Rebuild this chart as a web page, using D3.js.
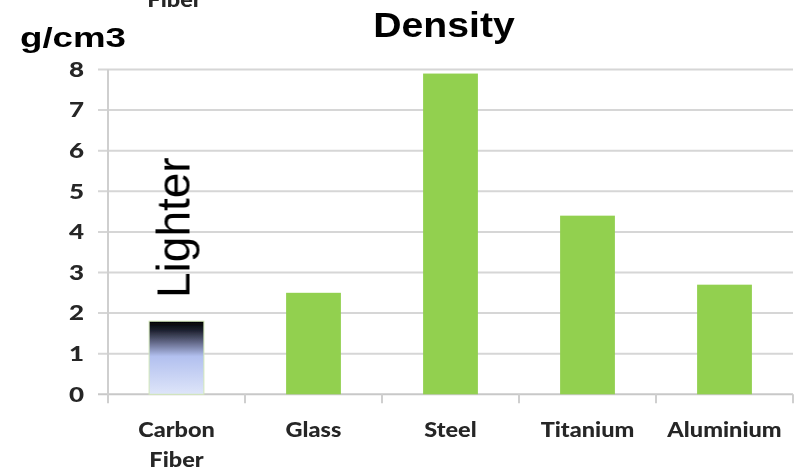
<!DOCTYPE html>
<html>
<head>
<meta charset="utf-8">
<script src="https://cdn.jsdelivr.net/npm/d3@7"></script>
<style>
  html, body { margin: 0; padding: 0; background: #fff; }
  svg { display: block; }
</style>
</head>
<body>
<svg id="chart" width="796" height="471"></svg>
<script>
// Material densities in g/cm3
const categories = ["Carbon Fiber", "Glass", "Steel", "Titanium", "Aluminium"];
const densities = [1.8, 2.5, 7.9, 4.4, 2.7];
const yTicks = [0, 1, 2, 3, 4, 5, 6, 7, 8];
const titleText = "Density";
const unitText = "g/cm3";
const calloutText = "Lighter";

const svg = d3.select("#chart");
const W = 796, H = 471;
const plot = { left: 108, right: 793, top: 69.5, bottom: 394.3 };

const x = d3.scaleBand()
  .domain(categories)
  .range([plot.left, plot.right])
  .paddingInner(0.6)
  .paddingOuter(0.3);
const step = x.step();

const y = d3.scaleLinear()
  .domain([0, 8])
  .range([plot.bottom, plot.top]);

// Gradient for the carbon fiber bar
const defs = svg.append("defs");
const grad = defs.append("linearGradient")
  .attr("id", "carbonGrad")
  .attr("x1", 0).attr("y1", 0).attr("x2", 0).attr("y2", 1);
[
  [0, "#000000"],
  [0.12, "#1c1f2c"],
  [0.3, "#676d8e"],
  [0.48, "#b2c0ef"],
  [1, "#dee5f9"]
].forEach(([o, c]) => grad.append("stop").attr("offset", o).attr("stop-color", c));

// Slight softening filter, evaluated over the whole canvas so thin lines keep their extent
const soft = defs.append("filter").attr("id", "soft")
  .attr("filterUnits", "userSpaceOnUse")
  .attr("x", 0).attr("y", 0).attr("width", W).attr("height", H);
soft.append("feGaussianBlur").attr("stdDeviation", 0.6);

const txtSoft = defs.append("filter").attr("id", "txtSoft")
  .attr("filterUnits", "userSpaceOnUse")
  .attr("x", 0).attr("y", -20).attr("width", W).attr("height", H + 40);
txtSoft.append("feGaussianBlur").attr("stdDeviation", 0.45);

// Horizontal gridlines
svg.append("g")
  .attr("filter", "url(#soft)")
  .selectAll("line")
  .data(yTicks.filter(d => d > 0))
  .join("line")
  .attr("x1", plot.left - 10)
  .attr("x2", plot.right)
  .attr("y1", d => y(d))
  .attr("y2", d => y(d))
  .attr("stroke", "#d6d6d6")
  .attr("stroke-width", 2);

// Axes lines and category tick marks
const axisG = svg.append("g").attr("filter", "url(#soft)");
axisG.append("line")
  .attr("x1", plot.left - 10).attr("x2", plot.right)
  .attr("y1", y(0)).attr("y2", y(0))
  .attr("stroke", "#c8c8c8").attr("stroke-width", 2);
axisG.append("line")
  .attr("x1", plot.left).attr("x2", plot.left)
  .attr("y1", y(8)).attr("y2", y(0) + 9)
  .attr("stroke", "#cfcfcf").attr("stroke-width", 2);
axisG.selectAll("line.tick")
  .data(categories)
  .join("line")
  .attr("class", "tick")
  .attr("x1", d => x(d) - step * 0.3 + step)
  .attr("x2", d => x(d) - step * 0.3 + step)
  .attr("y1", y(0))
  .attr("y2", y(0) + 9)
  .attr("stroke", "#cfcfcf").attr("stroke-width", 2);

// Bars
svg.append("g")
  .attr("filter", "url(#soft)")
  .selectAll("rect")
  .data(categories.map((c, i) => ({ c, v: densities[i] })))
  .join("rect")
  .attr("x", d => x(d.c))
  .attr("width", x.bandwidth())
  .attr("y", d => y(d.v))
  .attr("height", d => y(0) - y(d.v))
  .attr("fill", (d, i) => i === 0 ? "url(#carbonGrad)" : "#92d050")
  .attr("stroke", (d, i) => i === 0 ? "#d3e8b8" : "none")
  .attr("stroke-width", 1);

// Y tick labels
svg.append("g")
  .attr("filter", "url(#txtSoft)")
  .selectAll("text")
  .data(yTicks)
  .join("text")
  .attr("transform", d => `translate(84,${y(d)}) scale(1.3,1)`)
  .attr("text-anchor", "end")
  .attr("dy", "0.36em")
  .attr("font-family", "Lato, 'Liberation Sans', sans-serif")
  .attr("font-weight", "900")
  .attr("font-size", 20)
  .attr("fill", "#262626")
  .text(d => d);

// Category labels (wrapped at spaces)
const catG = svg.append("g").attr("filter", "url(#txtSoft)");
categories.forEach(c => {
  const words = c.split(" ");
  const cx = x(c) + x.bandwidth() / 2;
  words.forEach((w, k) => {
    catG.append("text")
      .attr("transform", `translate(${cx},${437 + k * 30}) scale(1.12,1)`)
      .attr("text-anchor", "middle")
      .attr("font-family", "Lato, 'Liberation Sans', sans-serif")
      .attr("font-weight", "900")
      .attr("font-size", 21)
      .attr("fill", "#262626")
      .text(w);
  });
});

// Second line of the first category label, repeated at the very top edge
catG.append("text")
  .attr("transform", `translate(${x(categories[0]) + x.bandwidth() / 2 - 2},6.5) scale(1.12,1)`)
  .attr("text-anchor", "middle")
  .attr("font-family", "Lato, 'Liberation Sans', sans-serif")
  .attr("font-weight", "900")
  .attr("font-size", 21)
  .attr("fill", "#262626")
  .text(categories[0].split(" ")[1]);

// Title
svg.append("text")
  .attr("transform", "translate(444,37) scale(1.12,1)")
  .attr("text-anchor", "middle")
  .attr("font-family", "'Liberation Sans', Arial, sans-serif")
  .attr("font-weight", "bold")
  .attr("font-size", 35)
  .attr("fill", "#000")
  .text(titleText);

// Unit label
svg.append("text")
  .attr("transform", "translate(20,47) scale(1.31,1)")
  .attr("font-family", "'Liberation Sans', Arial, sans-serif")
  .attr("font-weight", "bold")
  .attr("font-size", 28)
  .attr("fill", "#000")
  .text(unitText);

// Vertical callout over the carbon fiber bar
svg.append("text")
  .attr("transform", `translate(${x(categories[0]) + x.bandwidth() / 2 + 13},298) rotate(-90)`)
  .attr("font-family", "'Liberation Sans', Arial, sans-serif")
  .attr("font-size", 46)
  .attr("fill", "#000")
  .text(calloutText);
</script>
</body>
</html>
